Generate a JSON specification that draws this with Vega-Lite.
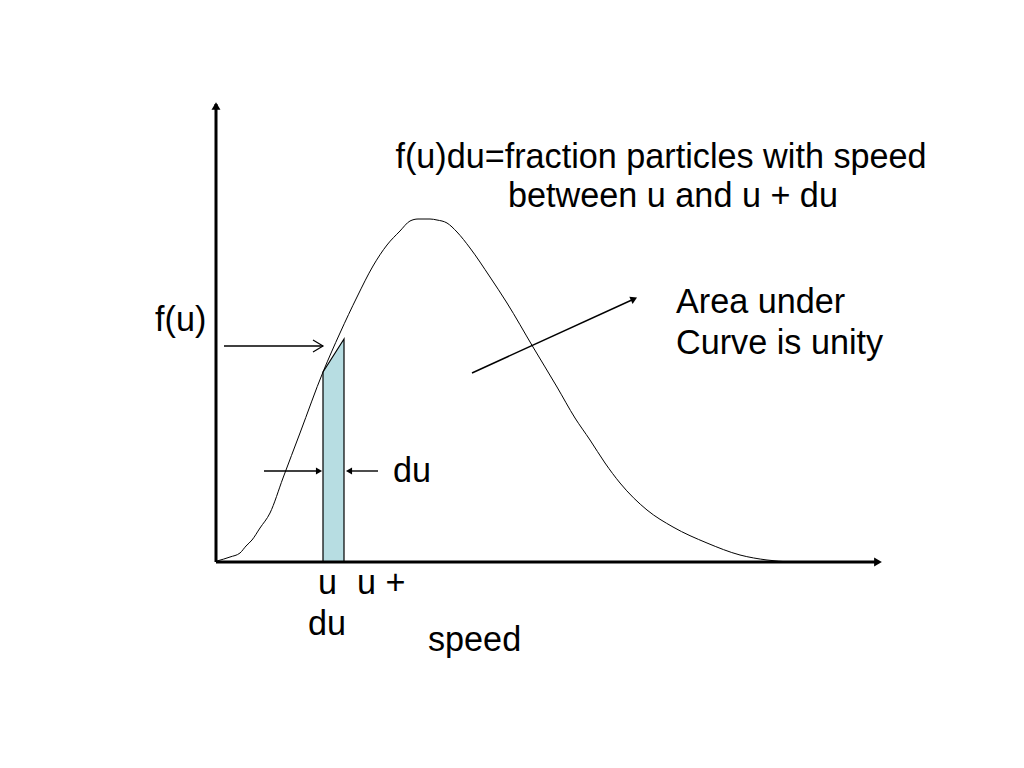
{
  "$schema": "https://vega.github.io/schema/vega-lite/v6.json",
  "width": 1024,
  "height": 768,
  "autosize": {"type": "fit", "contains": "padding"},
  "padding": 0,
  "background": "white",
  "config": {"view": {"stroke": null}},
  "datasets": {
    "curve": [
      {"u": 1, "f": 1}, {"u": 14, "f": 5}, {"u": 24, "f": 9}, {"u": 30, "f": 16}, {"u": 36, "f": 22},
      {"u": 44, "f": 34}, {"u": 54, "f": 49}, {"u": 67, "f": 84}, {"u": 84, "f": 129}, {"u": 107, "f": 190},
      {"u": 124, "f": 229}, {"u": 141, "f": 265}, {"u": 157, "f": 296}, {"u": 171, "f": 317},
      {"u": 184, "f": 331}, {"u": 194, "f": 341}, {"u": 202, "f": 343}, {"u": 214, "f": 343}, {"u": 221, "f": 342},
      {"u": 231, "f": 339}, {"u": 241, "f": 330}, {"u": 254, "f": 314}, {"u": 274, "f": 285}, {"u": 291, "f": 259},
      {"u": 317, "f": 215}, {"u": 341, "f": 175}, {"u": 359, "f": 144}, {"u": 374, "f": 122}, {"u": 389, "f": 99},
      {"u": 404, "f": 79}, {"u": 431, "f": 52}, {"u": 457, "f": 35}, {"u": 491, "f": 19}, {"u": 524, "f": 7},
      {"u": 551, "f": 2}, {"u": 574, "f": 0}
    ],
    "strip": [{"u": 107, "f": 190}, {"u": 128, "f": 223}],
    "axes": [
      {"u": 0, "f": 0, "u2": 0, "f2": 458},
      {"u": 0, "f": 0, "u2": 662, "f2": 0}
    ],
    "arrows": [
      {"u": 8, "f": 216, "u2": 107, "f2": 216},
      {"u": 48, "f": 91, "u2": 104, "f2": 91},
      {"u": 162, "f": 91, "u2": 132, "f2": 91},
      {"u": 256, "f": 189, "u2": 418, "f2": 263}
    ],
    "chevron": [
      {"i": 0, "u": 97, "f": 222},
      {"i": 1, "u": 107, "f": 216},
      {"i": 2, "u": 97, "f": 210}
    ],
    "headRight": [{"u": 103, "f": 91}],
    "headLeft": [{"u": 133, "f": 91}],
    "headDiag": [{"u": 418, "f": 263}],
    "headUp": [{"u": 0, "f": 456}],
    "headAxisRight": [{"u": 662, "f": 0}],
    "centered": [
      {"label": "f(u)du=fraction particles with speed", "u": 445, "f": 394},
      {"label": "between u and u + du", "u": 457, "f": 355}
    ],
    "leftText": [
      {"label": "Area under", "u": 460, "f": 249},
      {"label": "Curve is unity", "u": 460, "f": 208},
      {"label": "f(u)", "u": -61, "f": 231},
      {"label": "du", "u": 177, "f": 80},
      {"label": "u", "u": 102, "f": -32},
      {"label": "u +", "u": 141, "f": -32},
      {"label": "du", "u": 92, "f": -73},
      {"label": "speed", "u": 212, "f": -89}
    ]
  },
  "encoding": {
    "x": {"field": "u", "type": "quantitative", "scale": {"domain": [-216, 808], "nice": false, "zero": false}, "axis": null},
    "y": {"field": "f", "type": "quantitative", "scale": {"domain": [-206, 562], "nice": false, "zero": false}, "axis": null}
  },
  "layer": [
    {
      "data": {"name": "strip"},
      "mark": {"type": "area", "color": "#b7dde2", "stroke": "black", "strokeWidth": 1.2, "opacity": 1},
      "encoding": {"y2": {"datum": 0}}
    },
    {
      "data": {"name": "curve"},
      "mark": {"type": "line", "color": "black", "strokeWidth": 1, "interpolate": "monotone"}
    },
    {
      "data": {"name": "axes"},
      "mark": {"type": "rule", "color": "black", "strokeWidth": 3},
      "encoding": {"x2": {"field": "u2"}, "y2": {"field": "f2"}}
    },
    {
      "data": {"name": "arrows"},
      "mark": {"type": "rule", "color": "black", "strokeWidth": 1.4},
      "encoding": {"x2": {"field": "u2"}, "y2": {"field": "f2"}}
    },
    {
      "data": {"name": "chevron"},
      "mark": {"type": "line", "color": "black", "strokeWidth": 1.2},
      "encoding": {"order": {"field": "i", "type": "quantitative"}}
    },
    {
      "data": {"name": "headRight"},
      "mark": {"type": "point", "shape": "triangle-right", "filled": true, "color": "black", "size": 50, "opacity": 1}
    },
    {
      "data": {"name": "headLeft"},
      "mark": {"type": "point", "shape": "triangle-left", "filled": true, "color": "black", "size": 50, "opacity": 1}
    },
    {
      "data": {"name": "headDiag"},
      "mark": {"type": "point", "shape": "triangle-right", "angle": 335.4, "filled": true, "color": "black", "size": 60, "opacity": 1}
    },
    {
      "data": {"name": "headUp"},
      "mark": {"type": "point", "shape": "triangle-up", "filled": true, "color": "black", "size": 80, "opacity": 1}
    },
    {
      "data": {"name": "headAxisRight"},
      "mark": {"type": "point", "shape": "triangle-right", "filled": true, "color": "black", "size": 80, "opacity": 1}
    },
    {
      "data": {"name": "centered"},
      "mark": {"type": "text", "font": "Liberation Sans", "fontSize": 34.2, "align": "center", "baseline": "alphabetic", "color": "black"},
      "encoding": {"text": {"field": "label"}}
    },
    {
      "data": {"name": "leftText"},
      "mark": {"type": "text", "font": "Liberation Sans", "fontSize": 34.2, "align": "left", "baseline": "alphabetic", "color": "black"},
      "encoding": {"text": {"field": "label"}}
    }
  ]
}
